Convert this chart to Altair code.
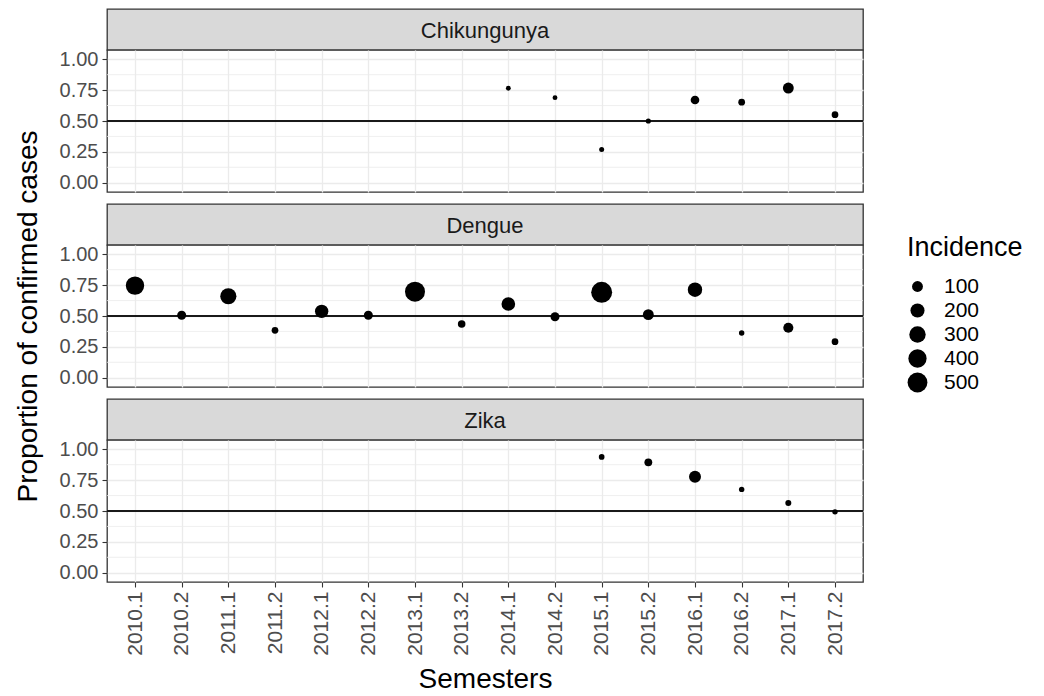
import altair as alt
import pandas as pd

semesters = ["2010.1", "2010.2", "2011.1", "2011.2", "2012.1", "2012.2", "2013.1", "2013.2",
             "2014.1", "2014.2", "2015.1", "2015.2", "2016.1", "2016.2", "2017.1", "2017.2"]
diseases = ["Chikungunya", "Dengue", "Zika"]

chik_prop = [None, None, None, None, None, None, None, None,
             0.765, 0.689, 0.27, 0.50, 0.67, 0.652, 0.767, 0.551]
chik_inc = [None, None, None, None, None, None, None, None,
            11, 11, 12, 13, 54, 27, 100, 27]

dengue_prop = [0.746, 0.506, 0.66, 0.384, 0.538, 0.506, 0.697, 0.435,
               0.597, 0.494, 0.692, 0.511, 0.713, 0.362, 0.405, 0.292]
dengue_inc = [409, 60, 288, 27, 173, 60, 512, 37,
              185, 60, 579, 100, 212, 15, 82, 27]

zika_prop = [None, None, None, None, None, None, None, None,
             None, None, 0.938, 0.894, 0.778, 0.675, 0.564, 0.493]
zika_inc = [None, None, None, None, None, None, None, None,
            None, None, 17, 41, 129, 15, 20, 15]

major_ticks = [0, 0.25, 0.5, 0.75, 1.0]
minor_ticks = [0.125, 0.375, 0.625, 0.875]
reference_line = 0.5
legend_values = [100, 200, 300, 400, 500]

props = {"Chikungunya": chik_prop, "Dengue": dengue_prop, "Zika": zika_prop}
incs = {"Chikungunya": chik_inc, "Dengue": dengue_inc, "Zika": zika_inc}

rows = []
for d in diseases:
    for s, p, i in zip(semesters, props[d], incs[d]):
        if p is not None:
            rows.append({"disease": d, "semester": s, "prop": p, "incidence": i})
df = pd.DataFrame(rows)
minor_df = pd.DataFrame({"prop": minor_ticks})

FONT = "Liberation Sans"
W, STRIP_H, PLOT_H, GAP = 756, 41, 142, 12
Y_TITLE = "Proportion of confirmed cases"

x_scale = alt.Scale(domain=semesters, type="point", padding=0.6)
y_scale = alt.Scale(domain=[-0.075, 1.075], nice=False, zero=False)
size_scale = alt.Scale(type="pow", exponent=0.75, domain=[10, 580], range=[22, 440], zero=False)


def y_axis(title_visible):
    return alt.Axis(
        values=major_ticks, format=".2f",
        labelOverlap=False, labelFlush=False,
        labelFontSize=20, labelColor="#4d4d4d", labelPadding=4,
        tickColor="#333333", tickSize=5, tickWidth=1.1,
        grid=True, gridColor="#ebebeb", gridWidth=1.3,
        domain=False,
        title=Y_TITLE if title_visible else "",
        titleFontSize=28, titleFontWeight="normal", titleColor="#000000",
        titlePadding=17,
    )


def x_axis(bottom):
    if bottom:
        return alt.Axis(
            labelAngle=270, labelFontSize=21, labelColor="#4d4d4d", labelPadding=4,
            tickColor="#333333", tickSize=5, tickWidth=1.1,
            grid=True, gridColor="#ebebeb", gridWidth=1.3, domain=False,
            title="Semesters", titleFontSize=28, titleFontWeight="normal",
            titleColor="#000000", titlePadding=10,
        )
    return alt.Axis(labels=False, ticks=False, domain=False, grid=True,
                    gridColor="#ebebeb", gridWidth=1.3, title=None)


def strip_chart(d):
    return alt.Chart(pd.DataFrame({"disease": [d]})).mark_text(
        font=FONT, fontSize=22, color="#1a1a1a", baseline="middle", align="center"
    ).encode(
        text="disease:N", x=alt.value(W / 2), y=alt.value(STRIP_H / 2 + 1)
    ).properties(
        width=W, height=STRIP_H,
        view=alt.ViewBackground(fill="#d9d9d9", stroke="#333333", strokeWidth=1.3),
    )


def plot_chart(d, idx):
    sub = df[df["disease"] == d]
    ax = y_axis(idx == 1)
    minor = alt.Chart(minor_df).mark_rule(color="#ebebeb", strokeWidth=0.8).encode(
        y=alt.Y("prop:Q", scale=y_scale, axis=ax)
    )
    rule = alt.Chart(sub).mark_rule(color="#1a1a1a", strokeWidth=1.4).encode(
        y=alt.YDatum(reference_line, scale=y_scale, axis=ax)
    )
    pts = alt.Chart(sub).mark_circle(color="#000000", opacity=1).encode(
        x=alt.X("semester:O", scale=x_scale, axis=x_axis(idx == 2), sort=semesters),
        y=alt.Y("prop:Q", scale=y_scale, axis=ax),
        size=alt.Size("incidence:Q", scale=size_scale, legend=alt.Legend(
            title="Incidence", values=legend_values, orient="none",
            legendX=800, legendY=226,
            titleFontSize=27, titleFontWeight="normal", titleColor="#000000",
            titlePadding=14, labelFontSize=21, labelColor="#000000",
            labelOffset=16, symbolFillColor="#000000", symbolStrokeWidth=0,
            symbolType="circle", symbolOpacity=1, rowPadding=2,
        )),
    )
    return alt.layer(minor, rule, pts).properties(
        width=W, height=PLOT_H,
        view=alt.ViewBackground(fill="#ffffff", stroke="#333333", strokeWidth=1.3),
    )


def spacer():
    return alt.Chart(pd.DataFrame({"a": [0]})).mark_point(opacity=0).properties(
        width=W, height=GAP,
        view=alt.ViewBackground(fill="transparent", stroke="transparent", strokeWidth=0),
    )


parts = []
for i, d in enumerate(diseases):
    if i > 0:
        parts.append(spacer())
    parts.append(strip_chart(d))
    parts.append(plot_chart(d, i))

chart = alt.vconcat(*parts, spacing=0, bounds="flush").properties(
    padding={"left": 5, "top": 0, "right": 5, "bottom": 5},
    background="#ffffff",
).configure(font=FONT).configure_view(stroke="#333333")

chart.save("out.html", embed_options={"renderer": "svg", "actions": False})
